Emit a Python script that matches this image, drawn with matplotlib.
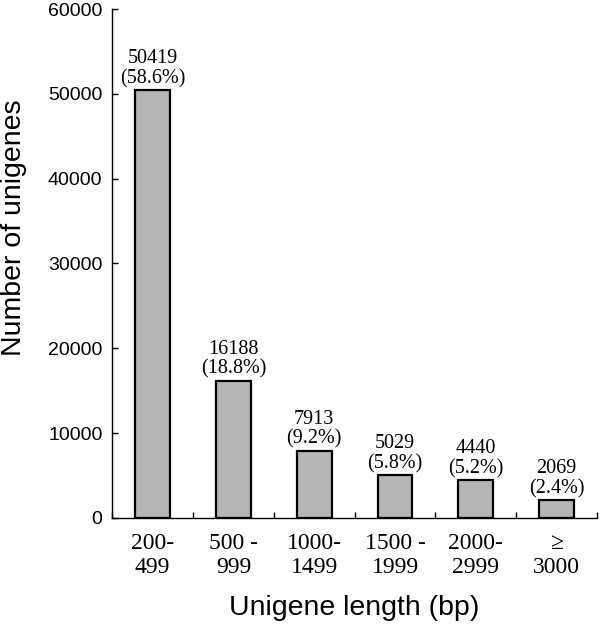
import matplotlib
matplotlib.use("Agg")
import matplotlib.pyplot as plt
import numpy as np

# ── data ──────────────────────────────────────────────────────────────────────
categories = ["200-\n499", "500 -\n999", "1000-\n1499", "1500 -\n1999",
              "2000-\n2999", "\u2265\n3000"]
counts = [50419, 16188, 7913, 5029, 4440, 2069]
percents = ["58.6%", "18.8%", "9.2%", "5.8%", "5.2%", "2.4%"]

SERIF = ["Liberation Serif", "DejaVu Serif"]
SANS = ["Liberation Sans", "DejaVu Sans"]

fig = plt.figure(figsize=(6.0, 6.24), dpi=100)
ax = fig.add_axes([0.187, 0.170, 0.808, 0.8155])

x = np.arange(len(counts))
ax.bar(x, counts, width=0.43, color="#b5b5b5", edgecolor="black", linewidth=1.6)

for xi, c, p in zip(x, counts, percents):
    ax.annotate(f"{c}\n({p})", (xi, c), xytext=(0, 1.5), textcoords="offset points",
                ha="center", va="bottom", fontsize=14.5, family=SERIF,
                linespacing=1.05)

ax.set_xlim(-0.5, len(counts) - 0.5)
ax.set_ylim(0, 60000)
ax.set_yticks(np.arange(0, 60001, 10000))
ax.tick_params(axis="y", direction="in", length=4.5, width=1, labelsize=14,
               pad=7)
for lab in ax.get_yticklabels():
    lab.set_family(SANS)

# category boundaries carry the x ticks, labels sit under each bar
ax.set_xticks(np.arange(-0.5, len(counts) - 0.4, 1.0))
ax.set_xticklabels([])
ax.tick_params(axis="x", which="major", direction="in", length=4, width=1)
ax.set_xticks(x, minor=True)
ax.set_xticklabels(categories, minor=True, fontsize=17, family=SERIF,
                   linespacing=1.2)
ax.tick_params(axis="x", which="minor", length=0, pad=11)

ax.spines["top"].set_visible(False)
ax.spines["right"].set_visible(False)
ax.spines["left"].set_linewidth(1)
ax.spines["bottom"].set_linewidth(1)

ax.set_ylabel("Number of unigenes", fontsize=20.5, family=SANS)
ax.yaxis.set_label_coords(-0.175, 0.57)
ax.set_xlabel("Unigene length (bp)", fontsize=20.5, family=SANS)
ax.xaxis.set_label_coords(0.5, -0.151)

fig.savefig("out.png", dpi=100)
